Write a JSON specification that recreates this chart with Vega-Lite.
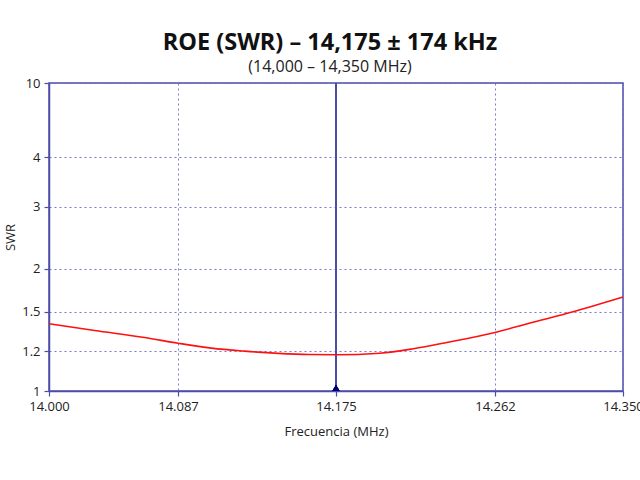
{
  "$schema": "https://vega.github.io/schema/vega-lite/v6.json",
  "description": "ROE (SWR) sweep 14.000 - 14.350 MHz",
  "width": 574,
  "height": 308,
  "autosize": {"type": "none"},
  "padding": {"left": 49, "top": 83, "right": 17, "bottom": 89},
  "background": "white",
  "title": {
    "text": "ROE (SWR) – 14,175 ± 174 kHz",
    "subtitle": "(14,000 – 14,350 MHz)",
    "anchor": "middle",
    "frame": "group",
    "dx": -6,
    "offset": 2,
    "font": "Open Sans",
    "fontSize": 23.5,
    "fontWeight": "bold",
    "color": "#111111",
    "subtitleFont": "Open Sans",
    "subtitleFontSize": 16,
    "subtitleColor": "#222222",
    "subtitlePadding": 5
  },
  "data": {
    "values": [
      {"freq": 14.0, "swr": 1.409},
      {"freq": 14.0308, "swr": 1.358},
      {"freq": 14.0645, "swr": 1.305},
      {"freq": 14.087, "swr": 1.262},
      {"freq": 14.1056, "swr": 1.225},
      {"freq": 14.1242, "swr": 1.202},
      {"freq": 14.1428, "swr": 1.19},
      {"freq": 14.16, "swr": 1.184},
      {"freq": 14.175, "swr": 1.183},
      {"freq": 14.199, "swr": 1.191},
      {"freq": 14.2173, "swr": 1.22},
      {"freq": 14.2356, "swr": 1.267},
      {"freq": 14.262, "swr": 1.343},
      {"freq": 14.286, "swr": 1.414},
      {"freq": 14.3157, "swr": 1.5},
      {"freq": 14.35, "swr": 1.671}
    ]
  },
  "layer": [
    {
      "mark": {"type": "rule", "color": "#4c4cab", "strokeWidth": 1.5},
      "encoding": {
        "x": {"datum": 14.175, "type": "quantitative"}
      }
    },
    {
      "mark": {"type": "line", "color": "#ff1010", "strokeWidth": 1.6, "interpolate": "monotone"},
      "encoding": {
        "x": {
          "field": "freq",
          "type": "quantitative",
          "title": "Frecuencia (MHz)",
          "scale": {
            "domain": [14.0, 14.087, 14.175, 14.262, 14.35],
            "range": [0, 129, 287, 446, 574],
            "nice": false,
            "zero": false
          },
          "axis": {
            "values": [14.0, 14.087, 14.175, 14.262, 14.35],
            "labelExpr": "format(datum.value, '.3f')",
            "grid": true,
            "labelFlush": false
          }
        },
        "y": {
          "field": "swr",
          "type": "quantitative",
          "title": "SWR",
          "scale": {
            "domain": [1, 1.2, 1.5, 2, 3, 4, 10],
            "range": [308, 268.4, 228.7, 185.7, 123.7, 74.4, 0],
            "nice": false,
            "zero": false
          },
          "axis": {
            "values": [1, 1.2, 1.5, 2, 3, 4, 10],
            "labelExpr": "'' + datum.value",
            "grid": true
          }
        }
      }
    },
    {
      "mark": {"type": "point", "shape": "triangle-up", "filled": true, "color": "#00007a", "size": 45, "opacity": 1, "yOffset": -3},
      "encoding": {
        "x": {"datum": 14.175, "type": "quantitative"},
        "y": {"datum": 1, "type": "quantitative"}
      }
    }
  ],
  "config": {
    "font": "Open Sans",
    "view": {"stroke": "#4c4cab", "strokeWidth": 1.5},
    "axis": {
      "domainColor": "#4c4cab",
      "domainWidth": 1.5,
      "tickColor": "#4c4cab",
      "tickSize": 5,
      "tickWidth": 1.2,
      "gridColor": "#6b6bd0",
      "gridDash": [2, 3],
      "gridWidth": 1,
      "gridOpacity": 0.9,
      "labelFont": "Open Sans",
      "labelFontSize": 13,
      "labelColor": "#222222",
      "titleFont": "Open Sans",
      "titleFontSize": 13,
      "titleFontWeight": "normal",
      "titleColor": "#222222"
    },
    "axisX": {"labelPadding": 4, "titlePadding": 12},
    "axisY": {"labelPadding": 4, "titlePadding": 4}
  }
}
